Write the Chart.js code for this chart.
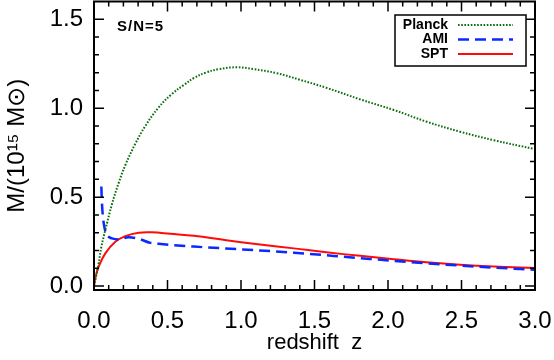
<!DOCTYPE html>
<html lang="en">
<head>
  <meta charset="UTF-8" />
  <title>Mass limit vs redshift</title>
  <script src="https://cdn.jsdelivr.net/npm/chart.js"></script>
  <style>
    html, body { margin: 0; padding: 0; background: #fff; }
    .wrap { width: 554px; height: 360px; }
  </style>
</head>
<body>
<div class="wrap"><canvas id="massChart" width="554" height="360"></canvas></div>

<script>
// values
const planckZ = [0, 0.01, 0.03, 0.05, 0.077, 0.122, 0.168, 0.213, 0.281, 0.349, 0.44, 0.53, 0.61, 0.68, 0.76, 0.85, 0.97, 1.084, 1.243, 1.40, 1.58, 1.81, 2.04, 2.26, 2.49, 2.72, 3.0];
const planckM = [0, 0.04, 0.12, 0.22, 0.315, 0.46, 0.58, 0.68, 0.80, 0.90, 1.005, 1.08, 1.13, 1.17, 1.20, 1.22, 1.23, 1.22, 1.197, 1.16, 1.115, 1.05, 0.99, 0.925, 0.868, 0.82, 0.77];

const amiZ = [0.05, 0.052, 0.056, 0.062, 0.07, 0.08, 0.095, 0.122, 0.168, 0.236, 0.304, 0.383, 0.44, 0.517, 0.68, 0.99, 1.36, 1.81, 2.26, 2.72, 3.0];
const amiM = [0.56, 0.51, 0.44, 0.38, 0.335, 0.30, 0.28, 0.268, 0.262, 0.275, 0.266, 0.243, 0.238, 0.232, 0.222, 0.207, 0.188, 0.157, 0.128, 0.104, 0.092];

const sptZ = [0, 0.01, 0.032, 0.077, 0.145, 0.213, 0.304, 0.395, 0.519, 0.68, 0.90, 1.13, 1.36, 1.58, 1.81, 2.04, 2.26, 2.49, 2.72, 3.0];
const sptM = [0, 0.05, 0.109, 0.184, 0.249, 0.281, 0.30, 0.302, 0.294, 0.283, 0.258, 0.234, 0.212, 0.19, 0.17, 0.151, 0.134, 0.12, 0.11, 0.102];

const xTicks = [0, 0.5, 1.0, 1.5, 2.0, 2.5, 3.0];
const yTicks = [0, 0.5, 1.0, 1.5];
const seriesNames = ['Planck', 'AMI', 'SPT'];
const noteText = 'S/N=5';

const toPoints = (xs, ys) => xs.map((x, i) => ({ x: x, y: ys[i] }));

// IDL-style frame: box on all four sides with inward major/minor ticks
const framePlugin = {
  id: 'frame',
  afterDatasetsDraw(chart) {
    const ctx = chart.ctx;
    const a = chart.chartArea;
    const xs = chart.scales.x, ys = chart.scales.y;
    ctx.save();
    ctx.strokeStyle = '#000';
    ctx.lineWidth = 2;
    ctx.strokeRect(a.left, a.top, a.right - a.left, a.bottom - a.top);
    ctx.lineWidth = 1.5;
    ctx.beginPath();
    for (let i = 0; i <= 30; i++) {
      const v = i / 10;
      const len = i % 5 === 0 ? 10 : 5;
      const px = xs.getPixelForValue(v);
      ctx.moveTo(px, a.bottom); ctx.lineTo(px, a.bottom - len);
      ctx.moveTo(px, a.top); ctx.lineTo(px, a.top + len);
    }
    for (let i = 0; i <= 15; i++) {
      const v = i / 10;
      const len = i % 5 === 0 ? 10 : 5;
      const py = ys.getPixelForValue(v);
      ctx.moveTo(a.left, py); ctx.lineTo(a.left + len, py);
      ctx.moveTo(a.right, py); ctx.lineTo(a.right - len, py);
    }
    ctx.stroke();

    // note
    ctx.fillStyle = '#000';
    ctx.font = 'bold 15px "Liberation Sans", Arial, sans-serif';
    ctx.letterSpacing = '1px';
    ctx.textAlign = 'left';
    ctx.textBaseline = 'middle';
    ctx.fillText(noteText, a.left + 23, a.top + 25);

    // legend box, text right-aligned, line sample to the right
    const bx = a.right - 140, by = a.top + 13.5, bw = 131, bh = 51;
    ctx.fillStyle = '#fff';
    ctx.fillRect(bx, by, bw, bh);
    ctx.lineWidth = 1.5;
    ctx.strokeRect(bx, by, bw, bh);
    ctx.letterSpacing = '0px';
    ctx.font = 'bold 14px "Liberation Sans", Arial, sans-serif';
    chart.data.datasets.forEach((ds, i) => {
      const y = by + 10 + i * 14.5;
      ctx.fillStyle = '#000';
      ctx.textAlign = 'right';
      ctx.fillText(ds.label, bx + 53, y);
      ctx.strokeStyle = ds.borderColor;
      ctx.lineWidth = ds.borderWidth;
      ctx.setLineDash(ds.borderDash || []);
      ctx.beginPath();
      ctx.moveTo(bx + 63, y);
      ctx.lineTo(bx + 118, y);
      ctx.stroke();
      ctx.setLineDash([]);
    });
    ctx.restore();
  }
};

const font = { family: '"Liberation Sans", Arial, sans-serif', size: 24 };

new Chart(document.getElementById('massChart'), {
  type: 'scatter',
  data: {
    datasets: [
      {
        label: seriesNames[0],
        data: toPoints(planckZ, planckM),
        borderColor: '#0a6e0a',
        borderWidth: 2,
        borderDash: [1.6, 1.6],
        showLine: true, pointRadius: 0,
        tension: 0.4
      },
      {
        label: seriesNames[1],
        data: toPoints(amiZ, amiM),
        borderColor: '#0a28ff',
        borderWidth: 2.5,
        borderDash: [11, 6],
        showLine: true, pointRadius: 0,
        cubicInterpolationMode: 'monotone'
      },
      {
        label: seriesNames[2],
        data: toPoints(sptZ, sptM),
        borderColor: '#ff0a0a',
        borderWidth: 2,
        showLine: true, pointRadius: 0,
        tension: 0.4
      }
    ]
  },
  options: {
    responsive: false,
    animation: false,
    layout: { padding: { left: 0, right: 19, top: 1.5, bottom: 0 } },
    plugins: { legend: { display: false }, tooltip: { enabled: false } },
    scales: {
      x: {
        type: 'linear', min: 0, max: 3,
        grid: { display: false, drawTicks: false },
        border: { display: false },
        afterBuildTicks: s => { s.ticks = xTicks.map(v => ({ value: v })); },
        afterFit: s => { s.height = 70; s.paddingLeft = 0; s.paddingRight = 0; },
        ticks: { color: '#000', font: font, padding: 17, callback: v => v.toFixed(1) },
        title: { display: true, text: 'redshift  z', color: '#000', font: { family: font.family, size: 22 }, padding: { top: 0, bottom: 4 } }
      },
      y: {
        type: 'linear', min: -0.022, max: 1.6,
        grid: { display: false, drawTicks: false },
        border: { display: false },
        afterBuildTicks: s => { s.ticks = yTicks.map(v => ({ value: v })); },
        afterFit: s => { s.width = 94; s.paddingTop = 0; s.paddingBottom = 0; },
        ticks: { color: '#000', font: font, padding: 11, callback: v => v.toFixed(1) },
        title: { display: true, text: 'M/(10¹⁵ M⊙)', color: '#000', font: { family: font.family, size: 24 }, padding: { top: 3, bottom: 0 } }
      }
    }
  },
  plugins: [framePlugin]
});
</script>
</body>
</html>
